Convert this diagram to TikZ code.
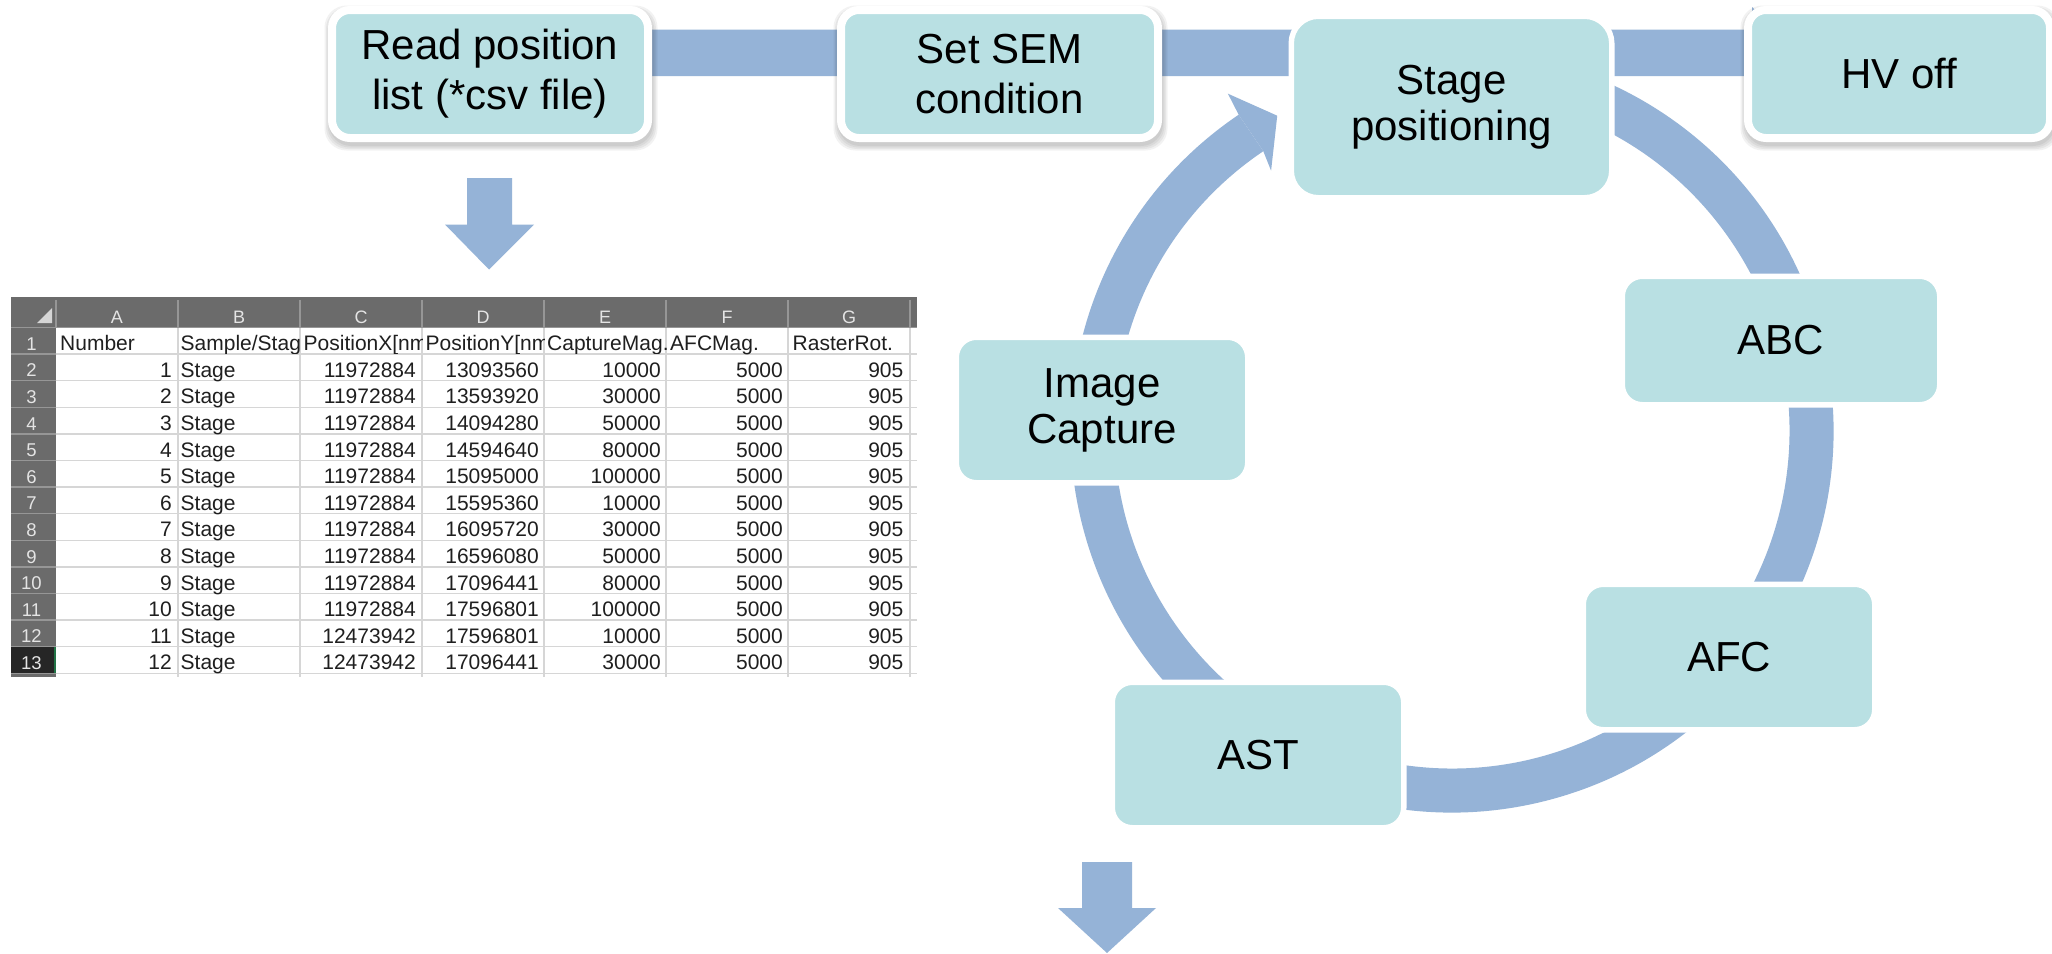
\documentclass[tikz,border=0pt]{standalone}
\usepackage{fontspec}
\setmainfont{Liberation Sans}
\usetikzlibrary{calc,backgrounds}

\definecolor{boxfill}{RGB}{185,224,227}
\definecolor{flow}{RGB}{149,179,215}
\definecolor{sheethead}{RGB}{107,107,107}
\definecolor{sheetsep}{RGB}{150,150,150}
\definecolor{sheetgrid}{RGB}{214,214,214}
\definecolor{sheetsel}{RGB}{38,38,38}
\definecolor{sheetgreen}{RGB}{33,115,70}
\definecolor{sheetlabel}{RGB}{228,228,228}

\tikzset{
  boxtext/.style={font=\fontsize{42}{50}\selectfont, align=center, text=black},
  topbox/.style={rectangle, rounded corners=18pt, fill=boxfill, draw=white,
    line width=8pt, inner sep=0pt, boxtext},
  cyclebox/.style={rectangle, rounded corners=20pt, fill=boxfill, draw=white,
    line width=5.5pt, inner sep=0pt, boxtext},
  cell/.style={inner sep=0pt, font=\fontsize{21}{25}\selectfont, text=black!88},
  colhead/.style={inner sep=0pt, font=\fontsize{18}{22}\selectfont, text=sheetlabel, anchor=base},
  rownum/.style={inner sep=0pt, font=\fontsize{18.5}{22}\selectfont, text=sheetlabel, anchor=base},
  gridline/.style={line width=1.3pt}
}

\begin{document}
\begin{tikzpicture}[x=1pt,y=-1pt]
\useasboundingbox (0,0) rectangle (2052,953);

% ---------- process boxes along the top ----------
\node[topbox, minimum width=316pt, minimum height=128pt] (read) at (490,74)
  {Read position\\list (*csv file)};
\node[topbox, minimum width=317pt, minimum height=128pt] (sem) at (999.5,74)
  {Set SEM\\condition};
\node[topbox, minimum width=302pt, minimum height=128pt] (hv) at (1899,74)
  {HV off};

% ---------- acquisition cycle ----------
\node[cyclebox, rounded corners=27pt, minimum width=320.5pt, minimum height=181.5pt,
  font=\fontsize{42}{46}\selectfont] (stage) at (1451.5,107) {Stage\\positioning};
\node[cyclebox, minimum width=317.5pt, minimum height=128.5pt] (abc) at (1781,340.5) {ABC};
\node[cyclebox, minimum width=291.5pt, minimum height=145.5pt] (afc) at (1729,657) {AFC};
\node[cyclebox, minimum width=291.5pt, minimum height=145.5pt] (ast) at (1258,755) {AST};
\node[cyclebox, minimum width=291.5pt, minimum height=145.5pt,
  font=\fontsize{42}{46}\selectfont] (ic) at (1102,410) {Image\\Capture};

\coordinate (hub) at (1452,431);
\coordinate (bartop) at (0,29.5);
\coordinate (barbot) at (0,76);

\begin{pgfonlayer}{background}
  \fill[white] (0,0) rectangle (2052,953);
  % main flow bar from the position list to HV off
  \fill[flow] (read.center |- bartop) -- (1752,29.5) -- (1752,7) -- (1800,52.5)
    -- (1752,98) -- (1752,76) -- (read.center |- barbot) -- cycle;
  % ring of the cycle, ending in an arrow head before the stage box
  \fill[flow] ($(hub)+(-105:381.5)$) arc[start angle=-105, end angle=236, radius=381.5]
    -- ($(hub)+(236:337.5)$) arc[start angle=236, end angle=-105, radius=337.5] -- cycle;
  \fill[flow] ($(hub)+(-124:381.5)$) -- ($(hub)+(-123.6:405)$) -- ($(hub)+(-119:360.5)$)
    -- ($(hub)+(-124.8:317)$) -- ($(hub)+(-124:337.5)$) -- cycle;
  % soft shadows of the top boxes
  \foreach \n in {read,sem,hv}{
    \foreach \s in {0,1.5,3,4.5}{
      \fill[black, opacity=0.05, rounded corners=22pt]
        ($(\n.south west)+(1-\s,4+\s)$) rectangle ($(\n.north east)+(1+\s,4-\s)$);
    }
  }
\end{pgfonlayer}

% block arrows pointing down
\fill[flow] (467,178) -- (512,178) -- (512,224.5) -- (534,224.5) -- (489,269.5)
  -- (445,224.5) -- (467,224.5) -- cycle;
\fill[flow] (1082,862) -- (1132,862) -- (1132,908) -- (1156,908) -- (1107,953)
  -- (1058,908) -- (1082,908) -- cycle;

% ---------- position list spreadsheet ----------
\fill[sheethead] (11,297) rectangle (917,327.5);
\fill[sheethead] (11,327.5) rectangle (56,677);
\fill[sheetsel] (11,646.7) rectangle (56,673.3);
\draw[sheetgreen, line width=1.6pt] (55.2,646.7) -- (55.2,673.3);
\fill[sheetlabel!85!gray] (52,308) -- (52,323) -- (37,323) -- cycle;
\draw[sheetsep, gridline] (11,327.5) -- (917,327.5);

\foreach \i in {1,...,13}{
  \pgfmathsetmacro\yb{327.5+\i*26.6}
  \draw[sheetgrid, gridline] (56,\yb) -- (917,\yb);
  \draw[sheetsep, gridline] (11,\yb) -- (56,\yb);
  \node[rownum] (rn\i) at (31.5,\yb-3.8) {\i};
}
\foreach \x in {178,300,...,910}
  \draw[sheetgrid, gridline] (\x,328) -- (\x,677);
\foreach \x in {56,178,...,910}
  \draw[sheetsep, gridline] (\x,300) -- (\x,327.5);
\foreach \c [count=\k] in {A,B,C,D,E,F,G}
  \node[colhead] (ch\k) at (56+122*\k-61,323.5) {\c};

% first row: column titles, cut at the cell borders
\pgfmathsetmacro\ya{327.5+26.6-3.5}
\node[cell, anchor=base west] (t1) at (60,\ya) {Number};
\begin{scope}
  \clip (178,328) rectangle (300,353);
  \node[cell, anchor=base west] (t2) at (180.5,\ya) {Sample/Stage};
\end{scope}
\begin{scope}
  \clip (300,328) rectangle (422,353);
  \node[cell, anchor=base west] (t3) at (303.5,\ya) {PositionX[nm]};
\end{scope}
\begin{scope}
  \clip (422,328) rectangle (544,353);
  \node[cell, anchor=base west] (t4) at (425.5,\ya) {PositionY[nm]};
\end{scope}
\begin{scope}
  \clip (544,328) rectangle (666,353);
  \node[cell, anchor=base west] (t5) at (547,\ya) {CaptureMag.};
\end{scope}
\node[cell, anchor=base west] (t6) at (670,\ya) {AFCMag.};
\node[cell, anchor=base west] (t7) at (792.5,\ya) {RasterRot.};

% data rows
\foreach \n/\cx/\cy/\ce [count=\r from 2] in {
  1/11972884/13093560/10000,
  2/11972884/13593920/30000,
  3/11972884/14094280/50000,
  4/11972884/14594640/80000,
  5/11972884/15095000/100000,
  6/11972884/15595360/10000,
  7/11972884/16095720/30000,
  8/11972884/16596080/50000,
  9/11972884/17096441/80000,
  10/11972884/17596801/100000,
  11/12473942/17596801/10000,
  12/12473942/17096441/30000}{
  \pgfmathsetmacro\yb{327.5+\r*26.6-3.5}
  \node[cell, anchor=base east] (a\r) at (172,\yb) {\n};
  \node[cell, anchor=base west] (b\r) at (180.5,\yb) {Stage};
  \node[cell, anchor=base east] (c\r) at (416,\yb) {\cx};
  \node[cell, anchor=base east] (d\r) at (539,\yb) {\cy};
  \node[cell, anchor=base east] (e\r) at (661,\yb) {\ce};
  \node[cell, anchor=base east] (f\r) at (783,\yb) {5000};
  \node[cell, anchor=base east] (g\r) at (903.5,\yb) {905};
}
\end{tikzpicture}
\end{document}
